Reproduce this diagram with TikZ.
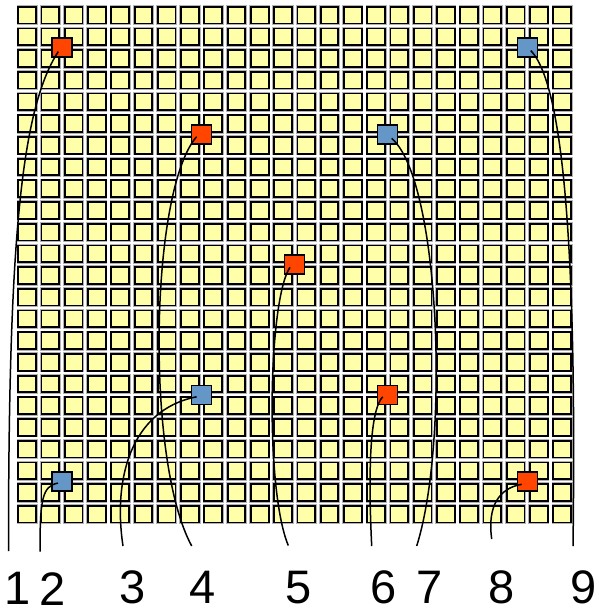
\documentclass[tikz,border=0pt]{standalone}
\usepackage{fontspec}
\setmainfont{Liberation Sans}
\definecolor{cellyellow}{HTML}{FFFFAA}
\definecolor{hotorange}{HTML}{FF4500}
\definecolor{steelblue}{HTML}{6496C8}
\begin{document}
\begin{tikzpicture}[x=1pt,y=-1pt,
  halo/.style={draw=black!30,line width=3.4pt},
  cell/.style={fill=cellyellow,draw=black,line width=1.8pt},
  marker/.style={draw=black,line width=1.4pt,minimum width=20pt,minimum height=19pt,inner sep=0pt,outer sep=0pt},
  omark/.style={marker,fill=hotorange},
  bmark/.style={marker,fill=steelblue},
  link/.style={draw=black,line width=1.5pt},
  lab/.style={anchor=base,inner sep=0pt,font=\fontsize{47}{50}\selectfont}]
\useasboundingbox (0,0) rectangle (598,613);
\fill[white] (0,0) rectangle (598,613);
% grid of cells
\foreach \i in {0,...,23}{
  \foreach \j in {0,...,23}{
    \draw[halo] ({18.3+23.26*\i},{6.7+21.7*\j}) rectangle ++(17.7,16.7);
    \draw[cell] ({18.3+23.26*\i},{6.7+21.7*\j}) rectangle ++(17.7,16.7);
  }
}
% marked cells
\node[omark] (s1) at (62.0,47.6) {};
\node[bmark] (s2) at (527.2,47.6) {};
\node[omark] (s3) at (201.6,134.4) {};
\node[bmark] (s4) at (387.7,134.4) {};
\node[omark] (s5) at (294.6,264.6) {};
\node[bmark] (s6) at (201.6,394.8) {};
\node[omark] (s7) at (387.7,394.8) {};
\node[bmark] (s8) at (62.0,481.6) {};
\node[omark] (s9) at (527.2,481.6) {};
% free ends
\coordinate (b1) at (8.5,551);
\coordinate (b2) at (40,551.5);
\coordinate (b3) at (123,546);
\coordinate (b4) at (191.7,546);
\coordinate (b5) at (288.3,545.5);
\coordinate (b6) at (371.7,546);
\coordinate (b7) at (416.7,546);
\coordinate (b8) at (491.7,539);
\coordinate (b9) at (573,546);
% connectors
\draw[link] (b1) .. controls (8.5,251) and (20,110) .. ([shift={(-3.7,4)}]s1.center);
\draw[link] (b2) .. controls (40,500) and (42,486) .. ([shift={(-4,1.5)}]s8.center);
\draw[link] (b3) .. controls (113,480) and (130,410) .. ([shift={(-5,2)}]s6.center);
\draw[link] (b4) .. controls (145,460) and (150,190) .. ([shift={(-5,2.3)}]s3.center);
\draw[link] (b5) .. controls (265,490) and (268,300) .. ([shift={(-4.6,2.7)}]s5.center);
\draw[link] (b6) .. controls (368,470) and (370,410) .. ([shift={(-5,2)}]s7.center);
\draw[link] (b7) .. controls (450,440) and (440,180) .. ([shift={(4,4)}]s4.center);
\draw[link] (b8) .. controls (487,505) and (500,488) .. ([shift={(-5.5,2.7)}]s9.center);
\draw[link] (b9) .. controls (576,320) and (570,90) .. ([shift={(3.5,3)}]s2.center);
% labels
\node[lab] (l1) at (17.8,604) {1};
\node[lab] (l2) at (52.5,605) {2};
\node[lab] (l3) at (133,603) {3};
\node[lab] (l4) at (203,603) {4};
\node[lab] (l5) at (299,603) {5};
\node[lab] (l6) at (383.5,603) {6};
\node[lab] (l7) at (430,603) {7};
\node[lab] (l8) at (502,603) {8};
\node[lab] (l9) at (584,603) {9};
\end{tikzpicture}
\end{document}
